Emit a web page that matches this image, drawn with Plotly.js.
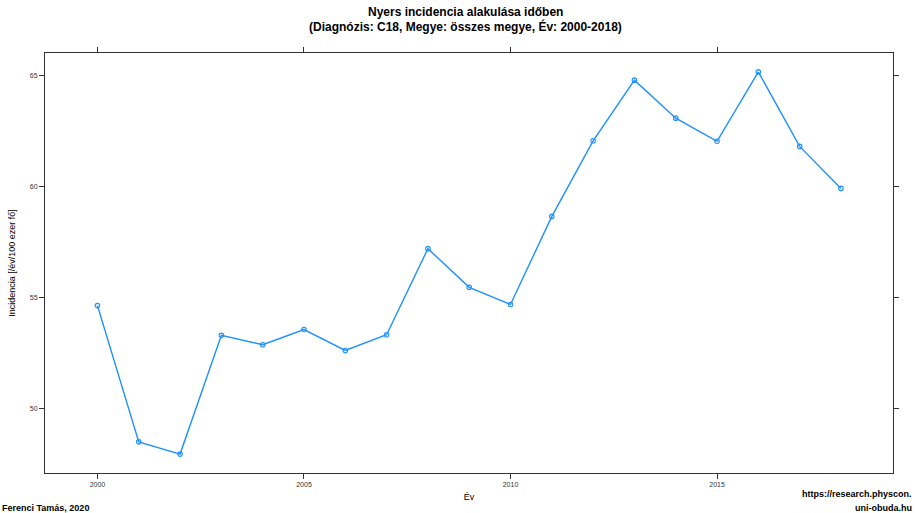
<!DOCTYPE html>
<html>
<head>
<meta charset="utf-8">
<script src="https://cdn.plot.ly/plotly-3.0.1.min.js"></script>
<style>html,body{margin:0;padding:0;background:#fff;}#chart{width:916px;height:513px;}</style>
</head>
<body>
<div id="chart"></div>
<script>
const years = [2000,2001,2002,2003,2004,2005,2006,2007,2008,2009,2010,2011,2012,2013,2014,2015,2016,2017,2018];
const incidence = [54.64,48.51,47.96,53.30,52.88,53.56,52.62,53.33,57.20,55.46,54.69,58.65,62.05,64.78,63.07,62.03,65.15,61.80,59.91];
const xTicks = [2000,2005,2010,2015];
const yTicks = [50,55,60,65];
const titleLines = ['Nyers incidencia alakulása időben', '(Diagnózis: C18, Megye: összes megye, Év: 2000-2018)'];

const FONT = 'Liberation Sans, Arial, Helvetica, sans-serif';
const trace = {
  x: years, y: incidence, type: 'scatter', mode: 'lines+markers',
  line: {color: '#1E90FF', width: 1.4},
  marker: {symbol: 'circle-open', size: 4.5, color: '#1E90FF', line: {width: 1.1, color: '#1E90FF'}},
  hoverinfo: 'x+y'
};
const axisCommon = {
  showgrid: false, zeroline: false, showline: true, mirror: 'ticks',
  linecolor: '#333', linewidth: 1, ticks: 'outside', ticklen: 5, tickwidth: 1, tickcolor: '#333',
  tickfont: {family: FONT, size: 7, color: '#333'}
};
const layout = {
  width: 916, height: 513,
  margin: {l: 45, r: 23, t: 53, b: 40},
  paper_bgcolor: '#fff', plot_bgcolor: '#fff',
  showlegend: false,
  xaxis: Object.assign({}, axisCommon, {range: [1998.73, 2019.26], tickvals: xTicks, ticktext: xTicks.map(String),
          title: {text: 'Év', font: {family: FONT, size: 9, color: '#000'}, standoff: 6}}),
  yaxis: Object.assign({}, axisCommon, {range: [47.11, 66.0], tickvals: yTicks, ticktext: yTicks.map(String),
          title: {text: 'Incidencia [/év/100 ezer fő]', font: {family: FONT, size: 9, color: '#000'}, standoff: 12}}),
  annotations: [
    {text: '<b>' + titleLines[0] + '</b>', xref: 'paper', yref: 'paper', x: 0.4953, y: (473 - 12) / 420, xanchor: 'center', yanchor: 'middle',
     showarrow: false, font: {family: FONT, size: 12, color: '#000'}},
    {text: '<b>' + titleLines[1] + '</b>', xref: 'paper', yref: 'paper', x: 0.4953, y: (473 - 26) / 420, xanchor: 'center', yanchor: 'middle',
     showarrow: false, font: {family: FONT, size: 12, color: '#000'}},
    {text: '<b>Ferenci Tamás, 2020</b>', xref: 'paper', yref: 'paper', x: -45/848, y: (473 - 508) / 420, xanchor: 'left', yanchor: 'middle',
     showarrow: false, font: {family: FONT, size: 9, color: '#000'}},
    {text: '<b>https://research.physcon.</b>', xref: 'paper', yref: 'paper', x: 1 + 21/848, y: (473 - 494) / 420, xanchor: 'right', yanchor: 'middle',
     showarrow: false, font: {family: FONT, size: 9, color: '#000'}},
    {text: '<b>uni-obuda.hu</b>', xref: 'paper', yref: 'paper', x: 1 + 21/848, y: (473 - 508) / 420, xanchor: 'right', yanchor: 'middle',
     showarrow: false, font: {family: FONT, size: 9, color: '#000'}}
  ]
};
Plotly.newPlot('chart', [trace], layout, {displayModeBar: false, staticPlot: true});
</script>
</body>
</html>
